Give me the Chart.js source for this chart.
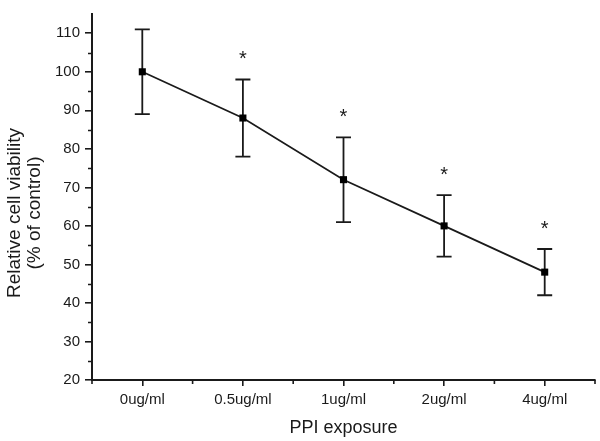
<!DOCTYPE html>
<html>
<head>
<meta charset="utf-8">
<script src="https://cdn.jsdelivr.net/npm/chart.js@4"></script>
<style>
  html, body { margin: 0; padding: 0; background: #fff; }
  #wrap { width: 600px; height: 441px; }
</style>
</head>
<body>
<div id="wrap"><canvas id="Chart" width="600" height="441"></canvas></div>
<script>
// Datos
const doses = ["0ug/ml", "0.5ug/ml", "1ug/ml", "2ug/ml", "4ug/ml"];
const viability = [100, 88, 72, 60, 48];
const errHigh = [111, 98, 83, 68, 54];
const errLow = [89, 78, 61, 52, 42];
const significant = [false, true, true, true, true];
const yMinorTicks = [25, 35, 45, 55, 65, 75, 85, 95, 105];
const yTitle = ["Relative cell viability", "(% of control)"];

const ink = "#1a1a1a";
const fontFamily = "'Liberation Sans', Arial, sans-serif";

// Barras de error, asteriscos y ticks menores
const extrasPlugin = {
  id: "extras",
  beforeDatasetsDraw(chart) {
    const ctx = chart.ctx;
    const x = chart.scales.x;
    const y = chart.scales.y;
    ctx.save();
    ctx.strokeStyle = ink;
    ctx.lineWidth = 1.8;
    for (let i = 0; i < doses.length; i++) {
      const px = x.getPixelForValue(i);
      const top = y.getPixelForValue(errHigh[i]);
      const bot = y.getPixelForValue(errLow[i]);
      ctx.beginPath();
      ctx.moveTo(px, top); ctx.lineTo(px, bot);
      ctx.moveTo(px - 7.5, top); ctx.lineTo(px + 7.5, top);
      ctx.moveTo(px - 7.5, bot); ctx.lineTo(px + 7.5, bot);
      ctx.stroke();
    }
    ctx.restore();
  },
  afterDraw(chart) {
    const ctx = chart.ctx;
    const x = chart.scales.x;
    const y = chart.scales.y;
    ctx.save();
    ctx.fillStyle = ink;
    ctx.font = "20px " + fontFamily;
    ctx.textAlign = "center";
    ctx.textBaseline = "alphabetic";
    for (let i = 0; i < doses.length; i++) {
      if (!significant[i]) continue;
      ctx.fillText("*", x.getPixelForValue(i), y.getPixelForValue(errHigh[i]) - 14);
    }

    // ticks menores
    ctx.strokeStyle = ink;
    ctx.lineWidth = 1.6;
    ctx.beginPath();
    yMinorTicks.forEach(v => {
      const py = Math.round(y.getPixelForValue(v)) + 0.5;
      ctx.moveTo(y.right, py); ctx.lineTo(y.right - 4, py);
    });
    const xs = [x.left];
    for (let i = 0; i < doses.length - 1; i++) {
      xs.push((x.getPixelForValue(i) + x.getPixelForValue(i + 1)) / 2);
    }
    xs.push(x.right);
    xs.forEach(px => {
      ctx.moveTo(px, x.top); ctx.lineTo(px, x.top + 4);
    });
    ctx.stroke();

    // titulo del eje Y
    ctx.font = "19px " + fontFamily;
    ctx.textBaseline = "middle";
    const cy = 213;
    yTitle.forEach((line, k) => {
      ctx.save();
      ctx.translate(15 + k * 20, cy);
      ctx.rotate(-Math.PI / 2);
      ctx.fillText(line, 0, 0);
      ctx.restore();
    });
    ctx.restore();
  }
};

const chartCanvas = document.getElementById("Chart");
const myChart = new Chart(chartCanvas, {
  type: "line",
  data: {
    labels: doses,
    datasets: [{
      data: viability,
      borderColor: ink,
      borderWidth: 1.7,
      backgroundColor: "#000",
      pointStyle: "rect",
      pointRadius: 5,
      pointBorderWidth: 0,
      pointBackgroundColor: "#000",
      tension: 0
    }]
  },
  options: {
    responsive: false,
    animation: false,
    layout: { padding: { top: 7, right: 5, left: 0, bottom: 0 } },
    plugins: {
      legend: { display: false },
      tooltip: { enabled: false }
    },
    scales: {
      x: {
        type: "category",
        offset: true,
        grid: { drawOnChartArea: false, drawTicks: true, tickLength: 6, color: ink, lineWidth: 1.6 },
        border: { color: ink, width: 2 },
        ticks: { color: ink, padding: 5, font: { family: fontFamily, size: 15 } },
        title: {
          display: true,
          text: "PPI exposure",
          color: ink,
          font: { family: fontFamily, size: 18 },
          padding: { top: 0, bottom: 2 }
        },
        afterFit(scale) { scale.height = 61; }
      },
      y: {
        min: 20,
        max: 115,
        grid: { drawOnChartArea: false, drawTicks: true, tickLength: 7, color: ink, lineWidth: 1.6 },
        border: { color: ink, width: 2 },
        ticks: {
          stepSize: 10,
          includeBounds: false,
          color: ink,
          padding: 5,
          font: { family: fontFamily, size: 15 }
        },
        afterFit(scale) { scale.width = 92; }
      }
    }
  },
  plugins: [extrasPlugin]
});
</script>
</body>
</html>
